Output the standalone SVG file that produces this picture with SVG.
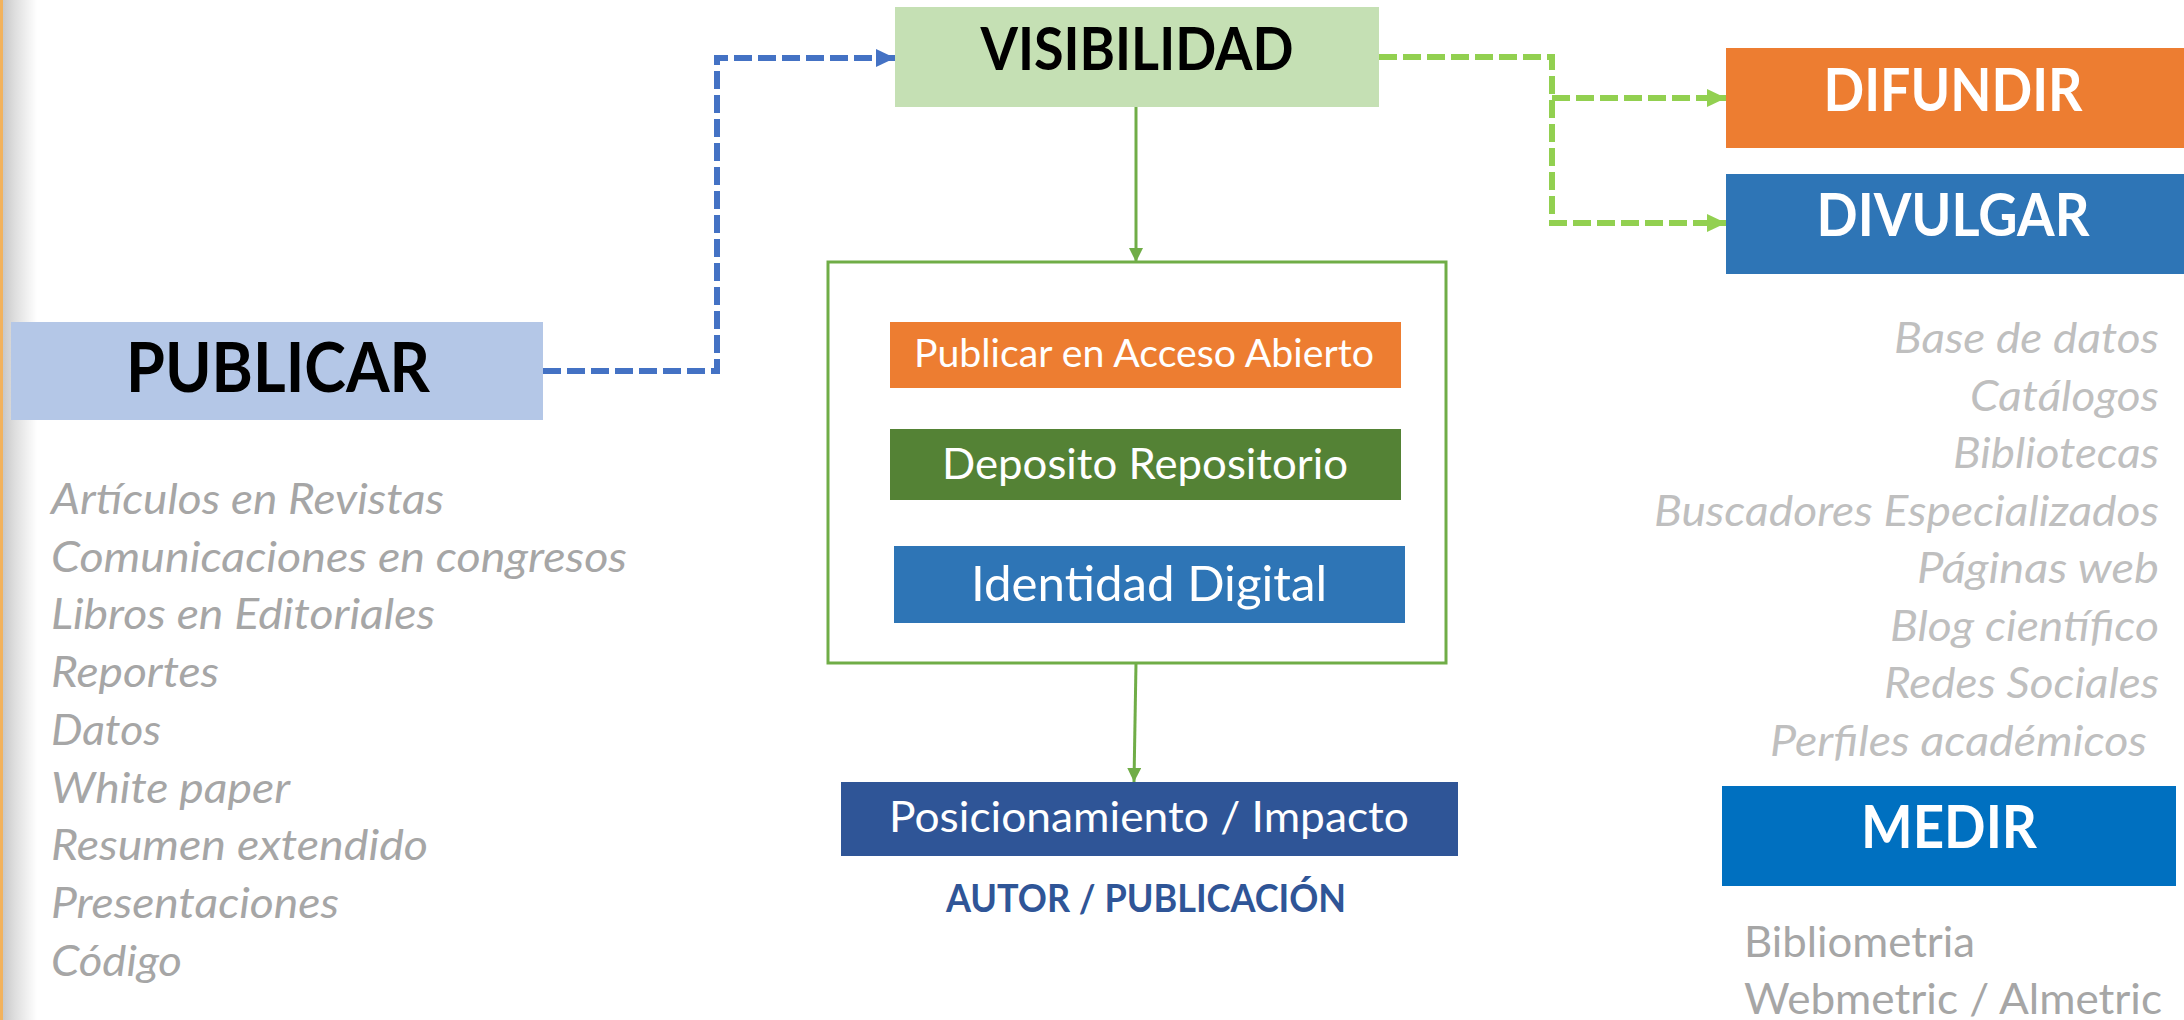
<svg xmlns="http://www.w3.org/2000/svg" width="2184" height="1020" viewBox="0 0 2184 1020">
<defs>
<linearGradient id="edge" x1="0" y1="0" x2="1" y2="0">
<stop offset="0" stop-color="#c8c8c8"/>
<stop offset="0.35" stop-color="#dedede"/>
<stop offset="1" stop-color="#ffffff"/>
</linearGradient>
<marker id="arrBlue" markerUnits="userSpaceOnUse" markerWidth="19" markerHeight="18" refX="19" refY="9" orient="auto">
<path d="M0,0 L19,9 L0,18 Z" fill="#4472C4"/>
</marker>
<marker id="arrLime" markerUnits="userSpaceOnUse" markerWidth="19" markerHeight="18" refX="19" refY="9" orient="auto">
<path d="M0,0 L19,9 L0,18 Z" fill="#92D050"/>
</marker>
<marker id="arrGreen" markerUnits="userSpaceOnUse" markerWidth="14" markerHeight="14" refX="14" refY="7" orient="auto">
<path d="M0,0 L14,7 L0,14 Z" fill="#70AD47"/>
</marker>
</defs>
<style>
.t{font-family:Lato,"Liberation Sans",sans-serif}
.b{font-weight:bold}
.head{font-family:Lato,"Liberation Sans",sans-serif;font-weight:bold;font-size:60px;text-anchor:middle}
.inner{font-family:Lato,"Liberation Sans",sans-serif;fill:#ffffff;text-anchor:middle}
.listL{font-family:Lato,"Liberation Sans",sans-serif;font-style:italic;font-size:42px;fill:#A6A6A6}
.listR{font-family:Lato,"Liberation Sans",sans-serif;font-style:italic;font-size:42px;fill:#BFBFBF;text-anchor:end}
.meas{font-family:Lato,"Liberation Sans",sans-serif;font-size:42px;fill:#A6A6A6}
.dash{fill:none;stroke-width:6;stroke-dasharray:18 6}
</style>
<rect width="2184" height="1020" fill="#ffffff"/>
<rect x="3" y="0" width="34" height="1020" fill="url(#edge)"/>
<rect x="0" y="0" width="3" height="1020" fill="#F2B25C"/>

<g id="connectors">
<path class="dash" stroke="#4472C4" d="M543,371 H717 V58 H895" marker-end="url(#arrBlue)"/>
<path class="dash" stroke="#92D050" d="M1379,57 H1552 V223 H1726" marker-end="url(#arrLime)"/>
<path class="dash" stroke="#92D050" d="M1552,98 H1726" marker-end="url(#arrLime)"/>
<path d="M1136,107 V262" stroke="#70AD47" stroke-width="3" fill="none" marker-end="url(#arrGreen)"/>
<path d="M1136,663 L1134,782" stroke="#70AD47" stroke-width="3" fill="none" marker-end="url(#arrGreen)"/>
</g>

<g id="publicar">
<rect x="11" y="322" width="532" height="98" fill="#B4C7E7"/>
<text class="head" x="278" y="392" style="font-size:69px" fill="#000000" textLength="304" lengthAdjust="spacingAndGlyphs">PUBLICAR</text>
</g>

<g id="visibilidad">
<rect x="895" y="7" width="484" height="100" fill="#C5E0B4"/>
<text class="head" x="1137" y="70" fill="#000000" textLength="313" lengthAdjust="spacingAndGlyphs">VISIBILIDAD</text>
</g>

<g id="difundir">
<rect x="1726" y="48" width="458" height="100" fill="#ED7D31"/>
<text class="head" x="1953" y="111" fill="#ffffff" textLength="259" lengthAdjust="spacingAndGlyphs">DIFUNDIR</text>
</g>

<g id="divulgar">
<rect x="1726" y="174" width="458" height="100" fill="#2E75B6"/>
<text class="head" x="1953" y="236" fill="#ffffff" textLength="273" lengthAdjust="spacingAndGlyphs">DIVULGAR</text>
</g>

<g id="contenedor">
<rect x="828" y="262" width="618" height="401" fill="none" stroke="#70AD47" stroke-width="3"/>
</g>

<g id="acceso-abierto">
<rect x="890" y="322" width="511" height="66" fill="#ED7D31"/>
<text class="inner" x="1144" y="367" font-size="38" textLength="460" lengthAdjust="spacingAndGlyphs">Publicar en Acceso Abierto</text>
</g>

<g id="deposito">
<rect x="890" y="429" width="511" height="71" fill="#548235"/>
<text class="inner" x="1145" y="479" font-size="42" textLength="406" lengthAdjust="spacingAndGlyphs">Deposito Repositorio</text>
</g>

<g id="identidad">
<rect x="894" y="546" width="511" height="77" fill="#2E75B6"/>
<text class="inner" x="1149" y="601" font-size="48" textLength="356" lengthAdjust="spacingAndGlyphs">Identidad Digital</text>
</g>

<g id="posicionamiento">
<rect x="841" y="782" width="617" height="74" fill="#2F5597"/>
<text class="inner" x="1149" y="832" font-size="42" textLength="520" lengthAdjust="spacingAndGlyphs">Posicionamiento / Impacto</text>
</g>

<g id="autor">
<text class="t b" x="1146" y="912" font-size="38" fill="#2F5597" text-anchor="middle" textLength="400" lengthAdjust="spacingAndGlyphs">AUTOR / PUBLICACIÓN</text>
</g>

<g id="medir">
<rect x="1722" y="786" width="454" height="100" fill="#0070C0"/>
<text class="head" x="1949" y="848" fill="#ffffff" textLength="176" lengthAdjust="spacingAndGlyphs">MEDIR</text>
</g>

<g id="lista-publicar">
<text class="listL" x="51" y="514" textLength="393" lengthAdjust="spacingAndGlyphs">Artículos en Revistas</text>
<text class="listL" x="51" y="572" textLength="576" lengthAdjust="spacingAndGlyphs">Comunicaciones en congresos</text>
<text class="listL" x="51" y="629" textLength="384" lengthAdjust="spacingAndGlyphs">Libros en Editoriales</text>
<text class="listL" x="51" y="687" textLength="168" lengthAdjust="spacingAndGlyphs">Reportes</text>
<text class="listL" x="51" y="745" textLength="110" lengthAdjust="spacingAndGlyphs">Datos</text>
<text class="listL" x="51" y="803" textLength="239" lengthAdjust="spacingAndGlyphs">White paper</text>
<text class="listL" x="51" y="860" textLength="377" lengthAdjust="spacingAndGlyphs">Resumen extendido</text>
<text class="listL" x="51" y="918" textLength="288" lengthAdjust="spacingAndGlyphs">Presentaciones</text>
<text class="listL" x="51" y="976" textLength="131" lengthAdjust="spacingAndGlyphs">Código</text>
</g>

<g id="lista-difundir">
<text class="listR" x="2159" y="353" textLength="265" lengthAdjust="spacingAndGlyphs">Base de datos</text>
<text class="listR" x="2159" y="411" textLength="189" lengthAdjust="spacingAndGlyphs">Catálogos</text>
<text class="listR" x="2159" y="468" textLength="206" lengthAdjust="spacingAndGlyphs">Bibliotecas</text>
<text class="listR" x="2159" y="526" textLength="505" lengthAdjust="spacingAndGlyphs">Buscadores Especializados</text>
<text class="listR" x="2159" y="583" textLength="242" lengthAdjust="spacingAndGlyphs">Páginas web</text>
<text class="listR" x="2159" y="641" textLength="269" lengthAdjust="spacingAndGlyphs">Blog científico</text>
<text class="listR" x="2159" y="698" textLength="275" lengthAdjust="spacingAndGlyphs">Redes Sociales</text>
<text class="listR" x="2147" y="756" textLength="377" lengthAdjust="spacingAndGlyphs">Perfiles académicos</text>
</g>

<g id="lista-medir">
<text class="meas" x="1744" y="957" textLength="231" lengthAdjust="spacingAndGlyphs">Bibliometria</text>
<text class="meas" x="1744" y="1014" textLength="418" lengthAdjust="spacingAndGlyphs">Webmetric / Almetric</text>
</g>
</svg>
